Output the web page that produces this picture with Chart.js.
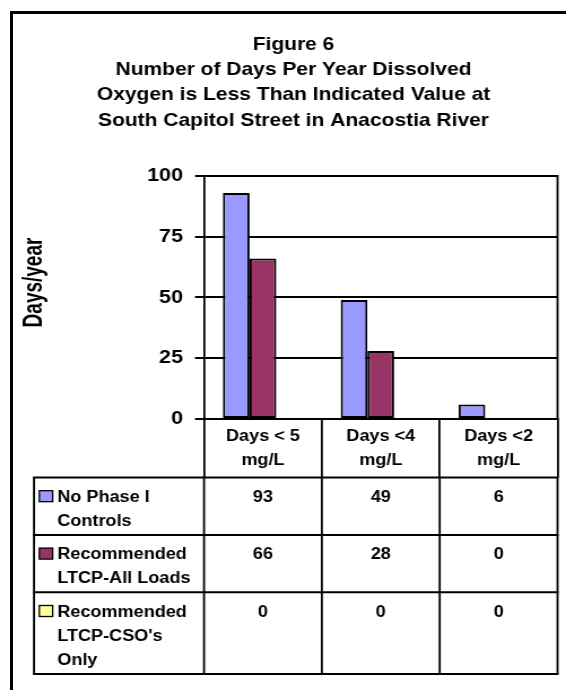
<!DOCTYPE html>
<html>
<head>
<meta charset="utf-8">
<script src="https://cdn.jsdelivr.net/npm/chart.js@4.4.1/dist/chart.umd.min.js"></script>
<style>
  html, body { margin: 0; padding: 0; background: #fff; overflow: hidden; }
  #frame { position: absolute; left: 10px; top: 11px; width: 620px; height: 720px;
           border-left: 3px solid #000; border-top: 3px solid #000; }
  #c { position: absolute; left: 0; top: 0; display: block; width: 566px; height: 690px; }
</style>
</head>
<body>
<div id="frame"></div>
<canvas id="c" width="501" height="690" style="width:566px;height:690px;"></canvas>
<script>
// ---- data ----
const titleLines = ["Figure 6", "Number of Days Per Year Dissolved", "Oxygen is Less Than Indicated Value at", "South Capitol Street in Anacostia River"];
const yAxisTitle = "Days/year";
const categories = [["Days < 5", "mg/L"], ["Days <4", "mg/L"], ["Days <2", "mg/L"]];
const seriesLabels = [["No Phase I", "Controls"], ["Recommended", "LTCP-All Loads"], ["Recommended", "LTCP-CSO's", "Only"]];
const noPhaseIControls = [93, 49, 6];
const ltcpAllLoads = [66, 28, 0];
const ltcpCsoOnly = [0, 0, 0];
const yTicks = [0, 25, 50, 75, 100];

// ---- styling ----
const FONT = '"Liberation Sans", Arial, Helvetica, sans-serif';
const colors = ['#9999FF', '#993366', '#FFFF99'];
const seriesValues = [noPhaseIControls, ltcpAllLoads, ltcpCsoOnly];

const tablePlugin = {
  id: 'tablePlugin',
  afterDraw(chart) {
    const ctx = chart.ctx;
    const area = chart.chartArea;
    const xs = chart.scales.x;
    const n = categories.length;
    const catW = (area.right - area.left) / n;
    const headerH = 58.5;
    const lineH = 24.3;
    const tableLeft = 30.1;
    const keyLeft = 34.8, keySize = 11.8, keyH = 11;
    const textLeft = 50.7;

    ctx.save();
    // right border of plot
    ctx.strokeStyle = '#000';
    ctx.lineWidth = 1.8;
    ctx.beginPath();
    ctx.moveTo(area.right, area.top - 1);
    ctx.lineTo(area.right, area.bottom);
    ctx.stroke();

    // table rows
    let top = area.bottom + headerH;
    const rowTops = [];
    seriesLabels.forEach(lines => { rowTops.push(top); top += 8.8 + lineH * lines.length; });
    const bottom = top;

    ctx.lineWidth = 2;
    [...rowTops, bottom].forEach(y => {
      ctx.beginPath();
      ctx.moveTo(tableLeft - 0.9, y);
      ctx.lineTo(area.right + 0.9, y);
      ctx.stroke();
    });
    ctx.lineWidth = 1.8;
    const vx = [tableLeft];
    for (let i = 0; i <= n; i++) vx.push(area.left + i * catW);
    vx.forEach(x => {
      ctx.beginPath();
      ctx.moveTo(x, rowTops[0]);
      ctx.lineTo(x, bottom);
      ctx.stroke();
    });

    ctx.fillStyle = '#000';
    ctx.font = 'bold 16px ' + FONT;
    ctx.textBaseline = 'alphabetic';
    seriesLabels.forEach((lines, r) => {
      const base = rowTops[r] + 24.2;
      // legend key
      ctx.fillStyle = colors[r];
      ctx.fillRect(keyLeft, base - keyH, keySize, keyH);
      ctx.lineWidth = 1.3;
      ctx.strokeStyle = '#000';
      ctx.strokeRect(keyLeft, base - keyH, keySize, keyH);
      ctx.fillStyle = '#000';
      ctx.textAlign = 'left';
      lines.forEach((t, i) => ctx.fillText(t, textLeft, base + i * lineH));
      ctx.textAlign = 'center';
      seriesValues[r].forEach((v, c) => ctx.fillText(String(v), xs.getPixelForTick(c), base));
    });

    // y axis title
    ctx.save();
    ctx.translate(37.4, 282.5);
    ctx.rotate(-Math.PI / 2);
    ctx.scale(1, 1.25);
    ctx.font = 'bold 19px ' + FONT;
    ctx.textAlign = 'center';
    ctx.textBaseline = 'alphabetic';
    ctx.fillText(yAxisTitle, 0, 0);
    ctx.restore();

    ctx.restore();
  }
};

new Chart(document.getElementById('c'), {
  type: 'bar',
  data: {
    labels: categories,
    datasets: seriesValues.map((vals, i) => ({
      label: seriesLabels[i].join(' '),
      data: vals,
      backgroundColor: colors[i],
      borderColor: '#000',
      borderWidth: 2,
      borderSkipped: false,
      categoryPercentage: 0.68,
      barPercentage: 1.0
    }))
  },
  options: {
    responsive: false,
    maintainAspectRatio: false,
    devicePixelRatio: 1,
    animation: false,
    layout: { padding: { left: 26.1, right: 7.5, top: 0, bottom: 0 } },
    plugins: {
      legend: { display: false },
      tooltip: { enabled: false },
      title: {
        display: true,
        text: titleLines,
        color: '#000',
        font: { family: FONT, size: 18.6, weight: 'bold', lineHeight: 1.36 },
        padding: { top: 31.9, bottom: 42.9 }
      }
    },
    scales: {
      x: {
        offset: true,
        grid: { display: true, drawOnChartArea: false, drawTicks: true, tickLength: 58.5, color: '#000', lineWidth: 1.8, offset: true },
        border: { display: true, color: '#000', width: 2 },
        ticks: { color: '#000', font: { family: FONT, size: 16, weight: 'bold', lineHeight: 1.52 }, padding: -53.45, maxRotation: 0, autoSkip: false },
        afterFit(scale) { scale.height = 271; }
      },
      y: {
        min: 0, max: 100,
        afterBuildTicks(scale) { scale.ticks = yTicks.map(v => ({ value: v })); },
        grid: { color: '#000', lineWidth: 2, drawTicks: true, tickLength: 8 },
        border: { display: true, color: '#000', width: 1.8 },
        ticks: { color: '#000', font: { family: FONT, size: 19, weight: 'bold' }, padding: 10.6 },
        afterFit(scale) { scale.width = 154.5; }
      }
    }
  },
  plugins: [tablePlugin]
});
</script>
</body>
</html>
